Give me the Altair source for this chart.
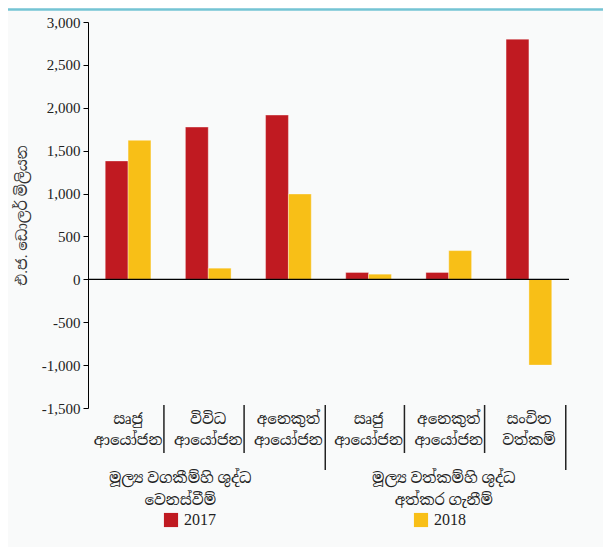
import altair as alt
import pandas as pd

keys = ["c1", "c2", "c3", "c4", "c5", "c6"]
cat_labels = [
    "සෘජු\nආයෝජන",
    "විවිධ\nආයෝජන",
    "අනෙකුත්\nආයෝජන",
    "සෘජු\nආයෝජන",
    "අනෙකුත්\nආයෝජන",
    "සංචිත\nවත්කම්",
]
years = ["2017", "2018"]
values_2017 = [1380, 1775, 1915, 80, 80, 2800]
values_2018 = [1620, 130, 995, 60, 335, -1000]
colors = ["#c01a21", "#f8bf17"]
group_labels = ["මූල්‍ය වගකීම්හි ශුද්ධ\nවෙනස්වීම්", "මූල්‍ය වත්කම්හි ශුද්ධ\nඅත්කර ගැනීම්"]
group_centers = ["c2", "c5"]
short_seps = ["c1", "c2", "c4", "c5"]
long_seps = ["c3", "c6"]
y_title = "එ.ජ. ඩොලර් මිලියන"

FONT = "Liberation Serif, Noto Serif Sinhala, Noto Sans Sinhala, serif"

rows = []
for k, a, b in zip(keys, values_2017, values_2018):
    rows.append({"key": k, "year": "2017", "value": a})
    rows.append({"key": k, "year": "2018", "value": b})
df = pd.DataFrame(rows)
cat_df = pd.DataFrame({"key": keys, "label": cat_labels})

xs = alt.Scale(domain=keys, paddingInner=0.43, paddingOuter=0.215)
X = alt.X("key:N", sort=keys, scale=xs, axis=None)

bars = alt.Chart(df).mark_bar(stroke="white", strokeOpacity=0.35, strokeWidth=1).encode(
    x=X,
    xOffset=alt.XOffset("year:N", sort=years, scale=alt.Scale(domain=years, paddingInner=0, paddingOuter=0)),
    y=alt.Y(
        "value:Q",
        scale=alt.Scale(domain=[-1500, 3000], nice=False, zero=False),
        axis=alt.Axis(
            values=[-1500, -1000, -500, 0, 500, 1000, 1500, 2000, 2500, 3000],
            labelExpr="replace(format(datum.value, ','), '−', '-')",
            grid=False,
            domainColor="black",
            tickColor="black",
            tickSize=5,
            labelFont="Liberation Serif",
            labelFontSize=15,
            labelColor="#222",
            labelPadding=3,
            title=y_title,
            titleFont=FONT,
            titleFontSize=15,
            titleFontWeight="normal",
            titleColor="#333",
            titlePadding=12,
        ),
    ),
    color=alt.Color(
        "year:N",
        sort=years,
        scale=alt.Scale(domain=years, range=colors),
        legend=alt.Legend(
            title=None,
            orient="none",
            direction="horizontal",
            legendX=75,
            legendY=490,
            symbolType="square",
            symbolSize=200,
            symbolStrokeWidth=0,
            labelFont="Liberation Serif",
            labelFontSize=16,
            labelColor="#222",
            labelOffset=5,
            columnPadding=197,
        ),
    ),
)

zero = alt.Chart(pd.DataFrame({"v": [0]})).mark_rule(color="black", strokeWidth=1.2).encode(y="v:Q")

top_line = alt.Chart(pd.DataFrame({"v": [0]})).mark_rule(color="#74c4d4", strokeWidth=2.5).encode(
    x=alt.value(-80), x2=alt.value(515), y=alt.value(-12.5)
)

cat_text = alt.Chart(cat_df).mark_text(
    lineBreak="\n", font=FONT, fontSize=15, lineHeight=21, baseline="middle", color="#222"
).encode(x=X, y=alt.value(397), text="label:N")

sep_short = alt.Chart(pd.DataFrame({"key": short_seps})).mark_rule(
    color="#222", strokeWidth=1.5, xOffset=13
).encode(x=alt.X("key:N", sort=keys, scale=xs, axis=None, bandPosition=1), y=alt.value(383), y2=alt.value(431))

sep_long = alt.Chart(pd.DataFrame({"key": long_seps})).mark_rule(
    color="#222", strokeWidth=1.5, xOffset=14
).encode(x=alt.X("key:N", sort=keys, scale=xs, axis=None, bandPosition=1), y=alt.value(383), y2=alt.value(448))

g1 = alt.Chart(pd.DataFrame({"key": [group_centers[0]], "label": [group_labels[0]]})).mark_text(
    lineBreak="\n", font=FONT, fontSize=15, lineHeight=22, baseline="middle", color="#222", dx=-28
).encode(x=X, y=alt.value(456), text="label:N")

g2 = alt.Chart(pd.DataFrame({"key": [group_centers[1]], "label": [group_labels[1]]})).mark_text(
    lineBreak="\n", font=FONT, fontSize=15, lineHeight=22, baseline="middle", color="#222", dx=-5
).encode(x=X, y=alt.value(456), text="label:N")

chart = alt.layer(top_line, bars, zero, cat_text, sep_short, sep_long, g1, g2).properties(
    width=481,
    height=386,
    autosize=alt.AutoSizeParams(type="none"),
    padding={"left": 80, "top": 14, "right": 34, "bottom": 140},
    background="#f9fafa",
).configure_view(stroke=None)

chart.save("out.html", embed_options={"renderer": "svg", "actions": False})
